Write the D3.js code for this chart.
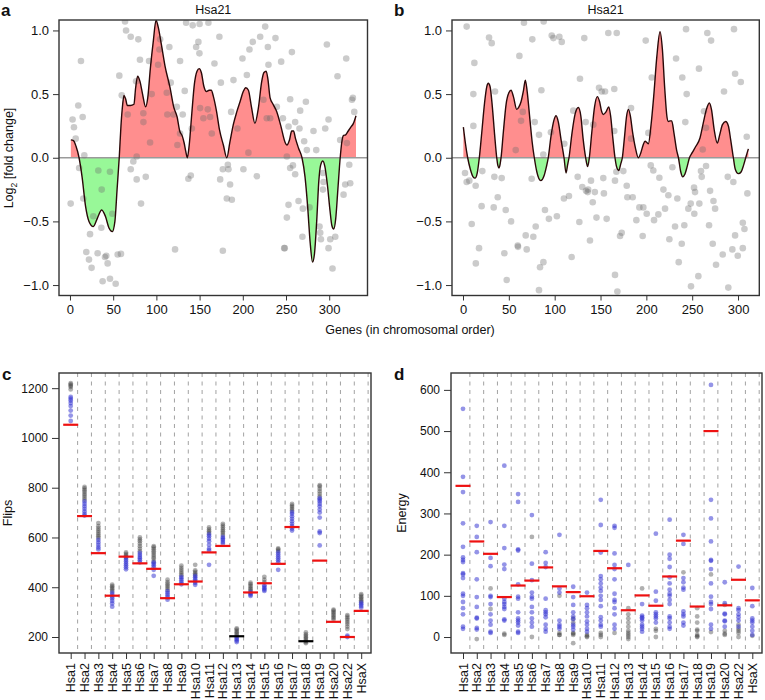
<!DOCTYPE html>
<html><head><meta charset="utf-8">
<script src="https://cdn.jsdelivr.net/npm/d3@7"></script>
<style>
body{margin:0;background:#fff}
text{font-family:"Liberation Sans",Arial,Helvetica,sans-serif;fill:#111}
</style>
</head><body>
<svg id="chart" width="765" height="700"></svg>
<script>
// ---------------- DATA ----------------
const geneTicks = [0, 50, 100, 150, 200, 250, 300];
const foldTicks = [-1, -0.5, 0, 0.5, 1];

// Panel a: smoothed log2 fold change (gene index, value)
const aCurve = [[1,0.14],[4,0.135],[7,0.09],[10.5,0],[14,-0.15],[18,-0.38],[22,-0.50],[27,-0.54],[32,-0.47],[36.7,-0.41],[41,-0.46],[45,-0.55],[49,-0.58],[52,-0.50],[54.5,-0.25],[57,0],[59,0.25],[61,0.42],[62.5,0.49],[64.5,0.46],[66.4,0.41],[70,0.41],[74,0.42],[76,0.55],[78.3,0.64],[81,0.60],[84,0.50],[87.5,0.40],[90,0.47],[93,0.70],[96.5,0.92],[99.6,1.08],[102,1.03],[106,0.88],[110,0.72],[115.8,0.55],[120,0.40],[124,0.32],[127,0.21],[130,0.17],[132,0.12],[134,0.05],[135.8,0],[138,0.10],[141,0.35],[144,0.58],[147,0.68],[149.5,0.70],[152,0.67],[155,0.56],[158,0.52],[161,0.53],[163.5,0.53],[166,0.48],[169.7,0.36],[173,0.22],[177.5,0.10],[181.5,0],[185,0.12],[189,0.26],[193,0.36],[196.8,0.44],[200.5,0.52],[203.5,0.55],[206.5,0.53],[210,0.40],[214,0.27],[218,0.39],[221.9,0.60],[224.5,0.67],[227,0.68],[229,0.62],[231.6,0.47],[235,0.42],[239.4,0.36],[244,0.25],[249,0.12],[251,0.10],[254,0.14],[256.6,0.21],[258.7,0.21],[261,0.15],[264.5,0.075],[268.5,0],[272,-0.15],[275,-0.38],[278,-0.67],[280.7,-0.82],[283,-0.75],[285.5,-0.50],[288,-0.18],[290,-0.06],[292.6,-0.025],[295,-0.07],[298,-0.22],[301,-0.42],[303,-0.53],[305.2,-0.56],[307.5,-0.48],[310,-0.25],[312.7,0],[314.5,0.12],[316.6,0.175],[319,0.18],[322,0.21],[325,0.24],[328,0.27],[331,0.33]];

// Panel a: individual genes
const aGenes = [[0.8,-0.36],[3,0.30],[4.6,0.24],[6.6,0.15],[9.6,0.41],[12.7,0.76],[14.7,0.32],[16.6,0.02],[10.6,-0.08],[15.4,-0.32],[23.2,-0.60],[18.9,-0.74],[22,-0.80],[25,-0.865],[27,-0.46],[32,-0.75],[32.8,-0.10],[36.7,-0.25],[36.3,-0.55],[40.5,-0.78],[43.6,-0.83],[42,-0.77],[37.8,-0.97],[46.3,-0.95],[52.9,-0.99],[46.3,-0.11],[49,-0.44],[55.2,-0.76],[59,-0.755],[57.1,0.645],[59.9,0.49],[64.9,1.0],[63.7,1.07],[70.3,0.95],[79.1,0.93],[81,0.77],[76.5,0.60],[84.9,0.35],[77.2,0.01],[73.3,-0.03],[70.3,-0.09],[77.2,-0.17],[87.7,-0.15],[82.2,-0.36],[85,0.28],[91.5,0.76],[92.7,0.12],[94.6,0.50],[66.8,0.34],[104.3,0.93],[103.5,0.85],[102,0.73],[112,0.51],[112.7,0.34],[115,0.87],[123.6,0.40],[116.6,0.59],[127.4,0.76],[127.4,0.19],[130.5,0.34],[124.3,0.10],[119.7,0.34],[132.8,0.525],[121.6,-0.72],[137,-0.165],[139.8,-0.14],[141,0.23],[142,1.04],[134.4,1.06],[146,0.87],[149.8,0.82],[148.6,0.91],[160.2,1.06],[150,1.05],[150.6,0.39],[154.4,0.31],[159.5,0.38],[162.2,0.32],[164.1,0.19],[167.2,0.74],[172.9,0.95],[174.6,0.59],[173.8,-0.17],[176.9,-0.09],[182.7,-0.055],[183.4,-0.09],[185.3,-0.21],[187.3,-0.33],[181.5,-0.32],[176.9,-0.73],[186.5,0.36],[189.2,0.61],[193.8,0.23],[199.6,0.78],[204.7,0.65],[207.7,0.85],[211.6,0.91],[220.1,0.95],[225.9,1.03],[229,0.87],[229.7,0.73],[223.9,0.455],[231.7,0.31],[239.4,0.40],[227.7,0.31],[206.5,0.04],[200.7,-0.09],[216.2,-0.145],[237.8,0.94],[244.4,0.755],[246.4,0.31],[254.8,0.46],[252.9,0.245],[251,0.01],[256.8,0.83],[260.6,0.28],[265.6,0.23],[266.4,0.37],[273,0.44],[271,0.13],[274.1,0.06],[254.8,-0.08],[258,-0.06],[260.6,-0.13],[252.9,-0.37],[251,-0.47],[264.5,-0.34],[269.5,-0.40],[269,-0.62],[277.2,-0.39],[247.9,-0.71],[248.5,-0.71],[281.8,0.21],[285,0.06],[288.8,-0.54],[289.6,-0.59],[290.4,-0.64],[292.7,-0.12],[293.4,-0.19],[292.7,-0.25],[295.4,0.23],[299.2,0.30],[297.3,0.89],[299.2,-0.71],[301.2,-0.64],[303.8,-0.87],[309.6,0.64],[312.7,0.14],[316.6,-0.29],[318.5,-0.21],[324.3,-0.20],[323.2,-0.055],[319.7,0.78],[326.3,0.455],[329,0.36],[327.4,0.47],[320.5,0.115],[307,-0.62]];

// Panel b: smoothed log2 fold change
const bCurve = [[0.4,0.24],[2.5,0.12],[5.1,0],[8,-0.09],[11,-0.15],[13.1,-0.16],[15.5,-0.12],[17.8,0],[20.5,0.2],[23.5,0.43],[26,0.56],[27.6,0.585],[29.5,0.56],[32,0.40],[34.5,0.18],[36.8,0],[38,-0.06],[39.3,-0.08],[40.5,-0.05],[41.5,0],[44,0.2],[47,0.42],[50,0.51],[52.4,0.53],[55,0.48],[58.6,0.38],[61,0.40],[63.3,0.44],[66,0.53],[68,0.61],[70,0.52],[73,0.30],[75.5,0.12],[77.8,0],[80.5,-0.11],[84.8,-0.18],[88.5,-0.14],[91,-0.07],[93,0],[96,0.17],[99,0.29],[101.5,0.33],[104,0.28],[107,0.14],[110.2,0],[112.4,-0.12],[114,-0.06],[115.6,0],[119,0.2],[122.5,0.35],[125.8,0.395],[128.5,0.33],[131,0.15],[133.8,0],[136,-0.07],[137.8,0],[140.5,0.2],[143.5,0.40],[146.5,0.48],[149,0.44],[151,0.37],[153,0.34],[156,0.36],[159,0.40],[161,0.33],[163.5,0.15],[165.8,0],[167.5,-0.07],[169.9,-0.10],[172,-0.05],[173.8,0],[176,0.15],[178.5,0.33],[180.4,0.38],[182.5,0.33],[185,0.20],[188,0.08],[191.3,0.0],[194,0.04],[196.5,0.1],[198.6,0.13],[200.5,0.12],[202.2,0.11],[205,0.25],[208,0.48],[211.5,0.80],[214.9,0.99],[217.5,0.85],[220,0.55],[222.5,0.32],[224,0.285],[226,0.29],[227.7,0.29],[230,0.20],[233,0.06],[235,0],[237.5,-0.11],[239.7,-0.15],[242,-0.13],[244.5,-0.07],[247,0],[250,0.04],[254,0.09],[258.5,0.155],[262,0.27],[265.5,0.38],[268.7,0.43],[271,0.38],[274,0.22],[277.4,0.115],[280,0.18],[283,0.26],[286.5,0.285],[289.5,0.25],[292,0.14],[294.9,0],[297,-0.09],[300.4,-0.125],[303.5,-0.11],[306,-0.06],[308.4,0],[310,0.04],[311.3,0.07]];

// Panel b: individual genes
const bGenes = [[4,1.03],[12.4,0.745],[11.3,0.50],[11.3,0.25],[2.2,-0.12],[4,-0.19],[6.9,-0.18],[13.8,-0.22],[21.1,-0.105],[9.5,-0.52],[20.3,-0.38],[17.5,-0.71],[14,-0.83],[28.4,0.945],[31.3,0.90],[34.9,0.52],[34.2,-0.15],[42.2,-0.16],[33.5,-0.39],[37.9,-0.31],[46.6,-0.41],[52.4,-0.50],[45.1,-0.75],[47.7,-0.96],[57.5,0.06],[61.5,0.80],[63.3,0.29],[65.2,0.36],[66.5,1.06],[68.4,-0.61],[59.7,-0.69],[60,-0.70],[69.5,-0.72],[75.6,0.93],[74.9,-0.165],[78.2,0.28],[82.9,0.18],[85.5,0.53],[76.7,-0.62],[79.3,-0.54],[87.6,0.025],[89.4,-0.41],[93.7,-0.48],[82.9,-1.04],[84,-0.86],[87.7,-0.82],[96.8,0.96],[98.6,0.94],[105.1,0.95],[107.7,0.91],[95.9,0.20],[102.4,-0.46],[110.5,0.11],[110.1,-0.32],[115.6,-0.30],[118.5,-0.78],[120.3,0.37],[125.1,-0.15],[126.9,-0.505],[127.6,0.62],[132.3,0.94],[130.1,-0.23],[133.8,0.28],[134.2,-0.26],[136,-0.27],[136.5,-0.25],[139.6,-0.18],[141.5,-0.35],[138.5,-0.65],[148.4,0.55],[142.2,0.26],[151.3,0.52],[143.8,-0.27],[145.6,-0.47],[153,-0.16],[153.7,-0.28],[156.7,-0.48],[154.9,0.52],[158.5,0.98],[165,0.54],[165,0.21],[165.8,-0.18],[167.3,-0.11],[167.7,0.98],[174.9,-0.105],[178.6,-0.22],[179.3,-0.31],[185.1,-0.31],[189.1,-0.49],[171.3,-0.615],[173.1,-0.59],[196,-0.615],[165.8,-0.92],[168.4,-1.05],[183.3,0.39],[183.3,0.15],[192.4,-0.39],[196.7,-0.39],[200.4,-0.44],[199.3,0.92],[202.2,0.195],[205.9,0.63],[204.8,-0.06],[207.6,-0.10],[208.4,-0.49],[213.1,-0.445],[214.2,-0.157],[218.6,-0.25],[220.4,-0.40],[224,-0.295],[225.1,-0.64],[228.4,-0.075],[232.4,0.78],[233.8,-0.32],[231.3,-0.54],[235.3,-0.82],[238.6,-0.675],[239.2,0.63],[241.4,-0.53],[242.5,0.28],[244,0.50],[243.3,1.01],[245.8,-0.40],[248.4,-0.36],[252,-0.235],[253.1,-0.27],[252.3,-0.44],[257.8,-0.36],[257.4,0.70],[259.6,-0.105],[260.4,-0.15],[261.5,0.065],[265.1,-0.065],[262.9,0.365],[265.1,0.235],[266.5,0.98],[270.6,0.92],[268.4,-0.53],[269.5,-0.26],[273.2,-0.34],[275,-0.40],[272.4,-0.675],[276,-0.84],[284.7,0.52],[283.3,-0.76],[288.8,-0.15],[294.9,-0.19],[293.8,-0.72],[296.8,-0.61],[299.7,-0.77],[295.6,1.01],[296.8,0.66],[303,0.595],[305.2,-0.51],[307,-0.56],[305.2,-0.71],[309.5,0.165],[310.2,-0.28],[289.4,-1.02],[256.7,-0.93],[248.7,-1.01],[88,1.07]];

// Panels c and d
const chromosomes = ["Hsa1","Hsa2","Hsa3","Hsa4","Hsa5","Hsa6","Hsa7","Hsa8","Hsa9","Hsa10","Hsa11","Hsa12","Hsa13","Hsa14","Hsa15","Hsa16","Hsa17","Hsa18","Hsa19","Hsa20","Hsa22","HsaX"];
const flipsTicks = [200, 400, 600, 800, 1000, 1200];
const energyTicks = [0, 100, 200, 300, 400, 500, 600];

const flipsRef = [1053,686,537,366,523,496,474,356,412,423,540,566,203,379,416,494,642,183,507,261,200,305];
const flipsRefBlack = ["Hsa13","Hsa18"];
const flipsBlue = [
 [1068,1090,1110,1128,1140,1150,1158,1165],
 [688,695,705,715,725,735,745],
 [552,560,570,580,590],
 [322,335,345,355,362,370,378],
 [472,480,488,495,503,510,518],
 [500,508,515,522,530,538],
 [446,470,480,488,495,500],
 [350,360,368,376,384],
 [412,420,428,436,442],
 [410,418,425,432,440,446],
 [490,548,555,570,585,595,605,612],
 [575,582,590,596,602],
 [180,186,192,198],
 [365,370,375,380],
 [385,390,396,402,408],
 [470,500,508,516,524,532,540],
 [628,636,645,655,665,675,685,695,702],
 [],
 [568,618,624,680,700,712,725,735,745,752,758],
 [],
 [200,205],
 [318,325,332,338]];
const flipsGray = [
 [1195,1205,1210,1215,1220],
 [752,760,768,775,783,790,797,803],
 [598,605,612,620,628,636,645,658],
 [385,392,398,404,410],
 [522,528,534,540],
 [545,555,565,575,585,592,600],
 [505,515,522,530,538,545,553,560,565],
 [390,398,405,412,420,430],
 [448,455,462,470,478,487],
 [450,456,462,468,490],
 [618,625,632,640],
 [610,618,625,632,640,648,655],
 [206,212,218,224,230,235],
 [386,392,398,405,412,418],
 [420,430,442],
 [546,552,556],
 [708,715,722,728,735],
 [175,180,186,192,198,204,210,218],
 [765,775,785,795,805,810],
 [270,276,282,288,294,300,306,310],
 [232,242,252,260,268,275,282,288],
 [342,348,354,360,366,372]];

const energyRef = [367,232,202,97,125,137,169,123,109,99,209,167,65,101,76,147,234,74,500,77,139,89];
const energyBlue = [
 [554,389,352,276,219,193,187,182,155,152,143,105,100,85,70,55,25,20],
 [270,243,206,140,97,73,47,45,22,18],
 [279,192,172,100,97,80,55,40,30,13,10],
 [416,270,216,176,165,93,85,80,73,68,43,40],
 [347,328,213,210,128,98,93,60,45,40,35,28,13,10],
 [296,178,138,108,98,93,73,60,45,35,25],
 [206,180,170,93,65,60,55,48,30,20,13],
 [248,118,108,40,30,25,20],
 [122,97,78,60,50,43,30,25,18],
 [108,78,70,60,50,38,30,20,13],
 [333,272,205,148,140,130,120,112,100,90,75,48,40,30,25],
 [270,265,203,175,165,140,105,90,85,70,55,30,20],
 [175],
 [80,52,48,45,40,30,25,20,13],
 [251,110,88,60,55,50,45,35],
 [285,200,190,170,145,130,115,105,100,90,80,50,45,35,25,20],
 [248,226,143,133,120,115,62,55,50,35,28],
 [],
 [612,333,288,232,187,185,165,130,98,85,80,68,30,20],
 [133,82,57,55,40,38,25],
 [171,70,65,55,48,40,25],
 [119,75,45,40,35,25,15,5]];
const energyGray = [
 [],[-5],[118,68],[5,8],[],[243,0],[],[100,10,5,5],[45,35,10,8,5,-15],[5,2,0],[10,5,0],[10],
 [70,55,45,35,25,15,10,5,0,-5],[118],[20,15,0],[],[157],[70,50,35,18,15,5,2,0],[152,12],[78,15,8,5],[30,20,15,10,0],[3]];

// ---------------- DRAWING ----------------
const svg = d3.select("#chart");
const defs = svg.append("defs");
const FONT = '"Liberation Sans",Arial,Helvetica,sans-serif';

function panelLetter(txt, x, y){
  svg.append("text").attr("x", x).attr("y", y).attr("font-size", 17).attr("font-weight", "bold").text(txt);
}

function curvePanel(id, box, xDom, curve, genes, letter, letterX){
  const x = d3.scaleLinear().domain(xDom).range([box.l, box.r]);
  const y = d3.scaleLinear().domain([-1.082, 1.082]).range([box.b, box.t]);
  const g = svg.append("g");
  defs.append("clipPath").attr("id", id+"all").append("rect")
    .attr("x", box.l).attr("y", box.t).attr("width", box.r-box.l).attr("height", box.b-box.t);
  defs.append("clipPath").attr("id", id+"pos").append("rect")
    .attr("x", box.l).attr("y", box.t).attr("width", box.r-box.l).attr("height", y(0)-box.t);
  defs.append("clipPath").attr("id", id+"neg").append("rect")
    .attr("x", box.l).attr("y", y(0)).attr("width", box.r-box.l).attr("height", box.b-y(0));
  const area = d3.area().x(d=>x(d[0])).y0(y(0)).y1(d=>y(d[1])).curve(d3.curveMonotoneX);
  g.append("path").datum(curve).attr("d", area).attr("fill", "#ff8e8e").attr("clip-path", `url(#${id}pos)`);
  g.append("path").datum(curve).attr("d", area).attr("fill", "#98f898").attr("clip-path", `url(#${id}neg)`);
  g.append("line").attr("x1", box.l).attr("x2", box.r).attr("y1", y(0)).attr("y2", y(0))
    .attr("stroke", "#9a9a9a").attr("stroke-width", 1.5);
  g.append("g").attr("clip-path", `url(#${id}all)`).selectAll("circle").data(genes).join("circle")
    .attr("cx", d=>x(d[0])).attr("cy", d=>y(d[1])).attr("r", 3.3)
    .attr("fill", "#6e6e6e").attr("fill-opacity", 0.36);
  const line = d3.line().x(d=>x(d[0])).y(d=>y(d[1])).curve(d3.curveMonotoneX);
  g.append("path").datum(curve).attr("d", line).attr("fill", "none")
    .attr("stroke", "#2a0808").attr("stroke-width", 1.4).attr("clip-path", `url(#${id}all)`);
  // axes
  const ya = g.append("g").attr("transform", `translate(${box.l},0)`)
    .call(d3.axisLeft(y).tickValues(foldTicks).tickFormat(d3.format(".1f")).tickSize(6).tickPadding(4));
  const xa = g.append("g").attr("transform", `translate(0,${box.b})`)
    .call(d3.axisBottom(x).tickValues(geneTicks).tickSize(5).tickPadding(4));
  [ya, xa].forEach(a=>{
    a.select(".domain").remove();
    a.selectAll("line").attr("stroke", "#333").attr("stroke-width", 1);
    a.selectAll("text").attr("font-size", 13).attr("font-family", FONT).attr("fill", "#111");
  });
  g.append("rect").attr("x", box.l).attr("y", box.t).attr("width", box.r-box.l).attr("height", box.b-box.t)
    .attr("fill", "none").attr("stroke", "#333").attr("stroke-width", 1.4);
  g.append("text").attr("x", (box.l+box.r)/2).attr("y", 14).attr("text-anchor", "middle")
    .attr("font-size", 12.5).text("Hsa21");
  panelLetter(letter, letterX, 16);
}

curvePanel("pa", {l:59, r:367.5, t:20, b:295.5}, [-12.7, 344.3], aCurve, aGenes, "a", 1);
curvePanel("pb", {l:452, r:759.3, t:20, b:295.5}, [-12, 323.2], bCurve, bGenes, "b", 394);

// y label panel a
const yl = svg.append("text").attr("transform", "translate(13,158) rotate(-90)").attr("text-anchor", "middle").attr("font-size", 12.5);
yl.append("tspan").text("Log");
yl.append("tspan").attr("font-size", 8.5).attr("dy", 4).text("2");
yl.append("tspan").attr("dy", -4).text(" [fold change]");
svg.append("text").attr("x", 410).attr("y", 334).attr("text-anchor", "middle").attr("font-size", 12.5)
  .text("Genes (in chromosomal order)");

function dotPanel(id, box, xRange, yDom, ticks, refs, blue, gray, blackRefs, ylabel, ylabelX, letter, letterX){
  const x = d3.scalePoint().domain(chromosomes).range(xRange);
  const step = x.step();
  const y = d3.scaleLinear().domain(yDom).range([box.b, box.t]);
  const g = svg.append("g");
  defs.append("clipPath").attr("id", id+"all").append("rect")
    .attr("x", box.l).attr("y", box.t).attr("width", box.r-box.l).attr("height", box.b-box.t);
  const inner = g.append("g").attr("clip-path", `url(#${id}all)`);
  inner.selectAll("line.sep").data(chromosomes).join("line").attr("class", "sep")
    .attr("x1", d=>x(d)+step/2).attr("x2", d=>x(d)+step/2).attr("y1", box.t).attr("y2", box.b)
    .attr("stroke", "#8a8a8a").attr("stroke-width", 0.8).attr("stroke-dasharray", "4,4.5");
  const grayPts = [], bluePts = [];
  chromosomes.forEach((c,i)=>{
    gray[i].forEach(v=>grayPts.push([c,v]));
    blue[i].forEach(v=>bluePts.push([c,v]));
  });
  inner.selectAll("circle.g").data(grayPts).join("circle").attr("class", "g")
    .attr("cx", d=>x(d[0])).attr("cy", d=>y(d[1])).attr("r", 2.4)
    .attr("fill", "#3a3a3a").attr("fill-opacity", 0.4);
  inner.selectAll("circle.b").data(bluePts).join("circle").attr("class", "b")
    .attr("cx", d=>x(d[0])).attr("cy", d=>y(d[1])).attr("r", 2.4)
    .attr("fill", "#2a2ad0").attr("fill-opacity", 0.5);
  inner.selectAll("line.ref").data(chromosomes).join("line").attr("class", "ref")
    .attr("x1", d=>x(d)-7.5).attr("x2", d=>x(d)+7.5)
    .attr("y1", (d,i)=>y(refs[i])).attr("y2", (d,i)=>y(refs[i]))
    .attr("stroke", d=>blackRefs.includes(d) ? "#000" : "#ee1111").attr("stroke-width", 2.2);
  const ya = g.append("g").attr("transform", `translate(${box.l},0)`)
    .call(d3.axisLeft(y).tickValues(ticks).tickFormat(d3.format("d")).tickSize(7).tickPadding(4));
  const xa = g.append("g").attr("transform", `translate(0,${box.b})`)
    .call(d3.axisBottom(x).tickSize(6).tickFormat(""));
  [ya, xa].forEach(a=>{
    a.select(".domain").remove();
    a.selectAll("line").attr("stroke", "#333").attr("stroke-width", 1);
    a.selectAll("text").attr("font-size", 12).attr("font-family", FONT).attr("fill", "#111");
  });
  g.selectAll("text.cat").data(chromosomes).join("text").attr("class", "cat")
    .attr("transform", d=>`translate(${x(d)},${box.b+10}) rotate(-90)`)
    .attr("text-anchor", "end").attr("dy", "0.36em").attr("font-size", 12.5).text(d=>d);
  g.append("rect").attr("x", box.l).attr("y", box.t).attr("width", box.r-box.l).attr("height", box.b-box.t)
    .attr("fill", "none").attr("stroke", "#333").attr("stroke-width", 1.4);
  g.append("text").attr("transform", `translate(${ylabelX},${(box.t+box.b)/2}) rotate(-90)`)
    .attr("text-anchor", "middle").attr("font-size", 12.5).text(ylabel);
  panelLetter(letter, letterX, 380);
}

dotPanel("pc", {l:59, r:371, t:373, b:653}, [70.7, 361.2], [135.7, 1261], flipsTicks,
  flipsRef, flipsBlue, flipsGray, flipsRefBlack, "Flips", 12, "c", 2);
dotPanel("pd", {l:451, r:762, t:373, b:653}, [463, 752.3], [-38.8, 641], energyTicks,
  energyRef, energyBlue, energyGray, [], "Energy", 406, "d", 394);
</script>
</body></html>
